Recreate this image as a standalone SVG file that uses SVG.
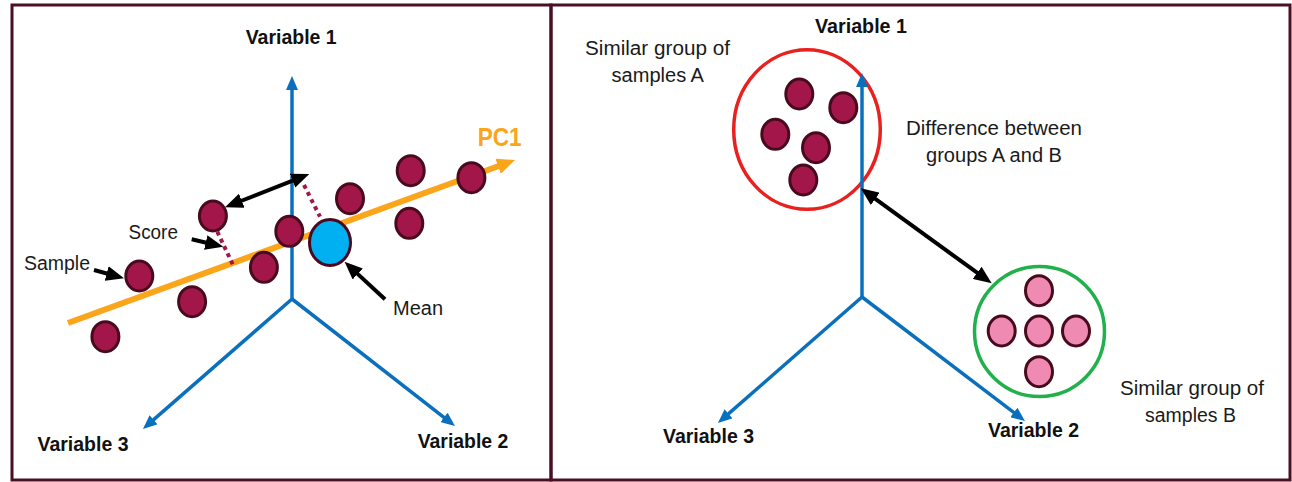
<svg xmlns="http://www.w3.org/2000/svg" width="1292" height="482" viewBox="0 0 1292 482">
<style>
.frame{fill:none;stroke:#4B0F23;stroke-width:3}
.axis{stroke:#0A70BE;stroke-width:3.5;fill:none;marker-end:url(#blueArrow)}
.pc{stroke:#FBA51A;stroke-width:6;fill:none;marker-end:url(#orangeArrow)}
.blk{stroke:#000;stroke-width:4;fill:none;marker-end:url(#blackArrow)}
.dbl{marker-start:url(#blackArrow)}
.dot{fill:#A2164A;stroke:#4A0A1E;stroke-width:3}
.pink{fill:#EF8AB2;stroke:#4A0A1E;stroke-width:3}
.mean{fill:#00B0F0;stroke:#4A0A1E;stroke-width:3}
.dash{stroke:#A2164A;stroke-width:4;stroke-dasharray:4 4;fill:none}
.t{font-family:"Liberation Sans",Arial,sans-serif;font-size:19.5px;fill:#1a1a1a}
.b{font-family:"Liberation Sans",Arial,sans-serif;font-size:19.5px;font-weight:bold;fill:#111}
.pct{font-family:"Liberation Sans",Arial,sans-serif;font-size:25px;font-weight:bold;fill:#FBA51A}
</style>
<defs>
<marker id="blueArrow" markerUnits="userSpaceOnUse" markerWidth="14" markerHeight="12" viewBox="0 0 14 12" refX="4" refY="6" orient="auto"><path d="M0,0 L14,6 L0,12 z" fill="#0A70BE"/></marker>
<marker id="orangeArrow" markerUnits="userSpaceOnUse" markerWidth="18" markerHeight="16" viewBox="0 0 18 16" refX="5" refY="8" orient="auto"><path d="M0,0 L18,8 L0,16 z" fill="#FBA51A"/></marker>
<marker id="blackArrow" markerUnits="userSpaceOnUse" markerWidth="18" markerHeight="15" viewBox="0 0 18 15" refX="5" refY="7.5" orient="auto-start-reverse"><path d="M0,0 L18,7.5 L0,15 z" fill="#000"/></marker>
</defs>
<rect width="1292" height="482" fill="#fff"/>
<g id="frames">
<rect class="frame" x="12" y="5" width="539" height="475"/>
<rect class="frame" x="551" y="5" width="739" height="475"/>
</g>
<g id="left-axes">
<line class="axis" x1="292" y1="299" x2="292" y2="86"/>
<line class="axis" x1="292" y1="299" x2="150.5" y2="422.4"/>
<line class="axis" x1="292" y1="299" x2="447.1" y2="419.9"/>
</g>
<g id="pc1-line"><line class="pc" x1="68" y1="323" x2="502.8" y2="164.5"/></g>
<g id="score-lines">
<line class="dash" x1="217.3" y1="231.7" x2="232.7" y2="264.3"/>
<line class="dash" x1="304" y1="185" x2="320" y2="216.7"/>
</g>
<g id="samples-left">
<ellipse class="dot" cx="105.4" cy="336.7" rx="13.5" ry="15"/>
<ellipse class="dot" cx="139.3" cy="276" rx="13.5" ry="15"/>
<ellipse class="dot" cx="192.1" cy="301.7" rx="13.5" ry="15"/>
<ellipse class="dot" cx="212.9" cy="216" rx="13.5" ry="15"/>
<ellipse class="dot" cx="263.9" cy="267.3" rx="13.5" ry="15"/>
<ellipse class="dot" cx="289.3" cy="231.3" rx="13.5" ry="15"/>
<ellipse class="dot" cx="350" cy="198.7" rx="13.5" ry="15"/>
<ellipse class="dot" cx="410.7" cy="170.7" rx="13.5" ry="15"/>
<ellipse class="dot" cx="409.3" cy="223.3" rx="13.5" ry="15"/>
<ellipse class="dot" cx="471.4" cy="177.7" rx="13.5" ry="15"/>
</g>
<g id="mean"><ellipse class="mean" cx="330" cy="242.5" rx="20.5" ry="23"/></g>
<g id="right-group-a">
<ellipse cx="807" cy="129.5" rx="73.3" ry="79.8" fill="none" stroke="#E8201E" stroke-width="3.5"/>
</g>
<g id="right-group-b">
<ellipse cx="1039.5" cy="331.5" rx="65" ry="65" fill="none" stroke="#22B04C" stroke-width="3.5"/>
</g>
<g id="right-axes">
<line class="axis" x1="862" y1="297" x2="862" y2="83"/>
<line class="axis" x1="862" y1="297" x2="725.5" y2="416.4"/>
<line class="axis" x1="862" y1="297" x2="1017" y2="414.9"/>
</g>
<g id="samples-a">
<ellipse class="dot" cx="799.3" cy="94" rx="13.5" ry="15"/>
<ellipse class="dot" cx="843.3" cy="107.7" rx="13.5" ry="15"/>
<ellipse class="dot" cx="775.3" cy="134.3" rx="13.5" ry="15"/>
<ellipse class="dot" cx="816" cy="147.7" rx="13.5" ry="15"/>
<ellipse class="dot" cx="803.3" cy="180" rx="13.5" ry="15"/>
</g>
<g id="samples-b">
<ellipse class="pink" cx="1039" cy="290.7" rx="13.5" ry="15"/>
<ellipse class="pink" cx="1001.7" cy="331" rx="13.5" ry="15"/>
<ellipse class="pink" cx="1039" cy="331" rx="13.5" ry="15"/>
<ellipse class="pink" cx="1076" cy="331" rx="13.5" ry="15"/>
<ellipse class="pink" cx="1039" cy="371.7" rx="13.5" ry="15"/>
</g>
<g id="connectors">
<line class="blk dbl" x1="237.1" y1="202.5" x2="297.2" y2="178.8"/>
<line class="blk" x1="191.7" y1="239.3" x2="210.6" y2="243.7"/>
<line class="blk" x1="94" y1="270" x2="111.5" y2="274.8"/>
<line class="blk" x1="385" y1="299.3" x2="354.1" y2="270.6"/>
<line class="blk dbl" x1="871.2" y1="195.9" x2="981.2" y2="275.7"/>
</g>
<g id="labels-left">
<text class="b" x="245.7" y="44" textLength="91" lengthAdjust="spacingAndGlyphs">Variable 1</text>
<text class="b" x="37.5" y="451" textLength="91" lengthAdjust="spacingAndGlyphs">Variable 3</text>
<text class="b" x="417.7" y="447.5" textLength="90.6" lengthAdjust="spacingAndGlyphs">Variable 2</text>
<text class="pct" x="477.7" y="146" textLength="44" lengthAdjust="spacingAndGlyphs">PC1</text>
<text class="t" x="128.6" y="239" textLength="49.3" lengthAdjust="spacingAndGlyphs">Score</text>
<text class="t" x="24" y="270" textLength="66" lengthAdjust="spacingAndGlyphs">Sample</text>
<text class="t" x="393" y="315" textLength="50" lengthAdjust="spacingAndGlyphs">Mean</text>
</g>
<g id="labels-right">
<text class="b" x="815" y="33" textLength="92" lengthAdjust="spacingAndGlyphs">Variable 1</text>
<text class="t" x="585" y="55" textLength="145" lengthAdjust="spacingAndGlyphs">Similar group of</text>
<text class="t" x="611.5" y="81.7" textLength="92.5" lengthAdjust="spacingAndGlyphs">samples A</text>
<text class="t" x="906" y="135" textLength="176" lengthAdjust="spacingAndGlyphs">Difference between</text>
<text class="t" x="926" y="162.3" textLength="136" lengthAdjust="spacingAndGlyphs">groups A and B</text>
<text class="b" x="663" y="443.3" textLength="91" lengthAdjust="spacingAndGlyphs">Variable 3</text>
<text class="b" x="988" y="436.7" textLength="91" lengthAdjust="spacingAndGlyphs">Variable 2</text>
<text class="t" x="1120" y="395" textLength="144" lengthAdjust="spacingAndGlyphs">Similar group of</text>
<text class="t" x="1145" y="421.7" textLength="91" lengthAdjust="spacingAndGlyphs">samples B</text>
</g>
</svg>
